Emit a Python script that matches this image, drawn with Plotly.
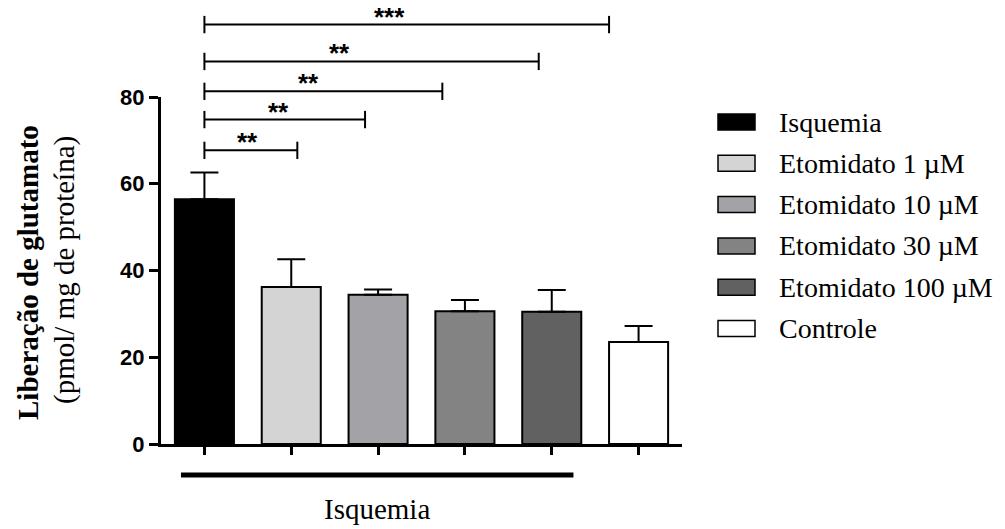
import plotly.graph_objects as go

# ---------------- data ----------------
categories = ["Isquemia", "Etomidato 1 µM", "Etomidato 10 µM",
              "Etomidato 30 µM", "Etomidato 100 µM", "Controle"]
means = [56.4, 36.2, 34.4, 30.6, 30.5, 23.5]
sem = [6.2, 6.4, 1.2, 2.6, 5.0, 3.7]
bar_colors = ["#000000", "#d4d4d4", "#a3a2a6", "#838383", "#616161", "#ffffff"]
y_ticks = [0, 20, 40, 60, 80]

# significance brackets (from category index -> to category position, height in data units)
sig_from = [0, 0, 0, 0, 0]
sig_to = [1.07, 1.85, 2.74, 3.85, 4.66]
sig_y = [67.7, 74.8, 81.3, 88.2, 96.7]
sig_text = ["**", "**", "**", "**", "***"]
sig_text_x = [0.5, 0.85, 1.2, 1.56, 2.13]

group_label = "Isquemia"
group_span = [-0.27, 4.25]

y_title_bold = "Liberação de glutamato"
y_title_sub = "(pmol/ mg de proteína)"

# ---------------- layout constants ----------------
XMIN, XMAX = -0.5, 5.5
YMIN, YMAX = 0, 80
W, H = 1005, 529
ML, MR, MT, MB = 161, 323, 97, 85
PW = W - ML - MR
PH = H - MT - MB
SERIF = "Liberation Serif, Times New Roman, serif"
SANS = "Liberation Sans, Arial, sans-serif"


def xp(c):
    return (c - XMIN) / (XMAX - XMIN)


def yp(v):
    return (v - YMIN) / (YMAX - YMIN)


def px_to_xpaper(px):
    return (px - ML) / PW


def px_to_ypaper(py):
    return (H - MB - py) / PH


x_idx = list(range(len(categories)))

fig = go.Figure()
fig.add_trace(go.Bar(
    x=x_idx, y=means, width=0.68,
    marker=dict(color=bar_colors, line=dict(color="black", width=2)),
    error_y=dict(type="data", array=sem, arrayminus=[0] * len(sem), symmetric=False,
                 thickness=2, width=14, color="black"),
    showlegend=False, hoverinfo="skip",
))

shapes = []
annotations = []

# significance brackets
tick_half = 2.0
for f, t, v, s, sx in zip(sig_from, sig_to, sig_y, sig_text, sig_text_x):
    line = dict(color="black", width=2)
    shapes.append(dict(type="line", xref="paper", yref="paper",
                       x0=xp(f), x1=xp(t), y0=yp(v), y1=yp(v), line=line))
    for xe in (f, t):
        shapes.append(dict(type="line", xref="paper", yref="paper",
                           x0=xp(xe), x1=xp(xe), y0=yp(v - tick_half), y1=yp(v + tick_half),
                           line=line))
    annotations.append(dict(xref="paper", yref="paper", x=xp(sx), y=yp(v),
                            text=s, showarrow=False, xanchor="center", yanchor="bottom",
                            yshift=-9,
                            font=dict(family=SANS, size=26, color="black", weight="bold")))

# group bar below axis
shapes.append(dict(type="line", xref="paper", yref="paper",
                   x0=xp(group_span[0]), x1=xp(group_span[1]),
                   y0=px_to_ypaper(475), y1=px_to_ypaper(475),
                   line=dict(color="black", width=5)))
annotations.append(dict(xref="paper", yref="paper",
                        x=xp((group_span[0] + group_span[1]) / 2), y=px_to_ypaper(509),
                        text=group_label, showarrow=False, xanchor="center", yanchor="middle",
                        font=dict(family=SERIF, size=29, color="black")))

# y-axis titles
annotations.append(dict(xref="paper", yref="paper", x=px_to_xpaper(28), y=px_to_ypaper(273),
                        text="<b>" + y_title_bold + "</b>", showarrow=False, textangle=-90,
                        xanchor="center", yanchor="middle",
                        font=dict(family=SERIF, size=29, color="black")))
annotations.append(dict(xref="paper", yref="paper", x=px_to_xpaper(64), y=px_to_ypaper(270),
                        text=y_title_sub, showarrow=False, textangle=-90,
                        xanchor="center", yanchor="middle",
                        font=dict(family=SERIF, size=29, color="black")))

# custom legend
row0, row_step = 122, 41.3
for i, (name, col) in enumerate(zip(categories, bar_colors)):
    cy = row0 + i * row_step
    shapes.append(dict(type="rect", xref="paper", yref="paper",
                       x0=px_to_xpaper(718), x1=px_to_xpaper(755),
                       y0=px_to_ypaper(cy - 8), y1=px_to_ypaper(cy + 8),
                       fillcolor=col, line=dict(color="black", width=1.5)))
    annotations.append(dict(xref="paper", yref="paper", x=px_to_xpaper(777), y=px_to_ypaper(cy),
                            text=name, showarrow=False, xanchor="left", yanchor="middle",
                            font=dict(family=SERIF, size=28, color="black")))

fig.update_layout(
    width=W, height=H,
    margin=dict(l=ML, r=MR, t=MT, b=MB, autoexpand=False),
    paper_bgcolor="white", plot_bgcolor="white",
    showlegend=False,
    shapes=shapes, annotations=annotations,
    xaxis=dict(range=[XMIN, XMAX], tickvals=x_idx, showticklabels=False,
               ticks="outside", ticklen=8, tickwidth=3, tickcolor="black",
               showline=True, linewidth=3, linecolor="black",
               showgrid=False, zeroline=False, fixedrange=True),
    yaxis=dict(range=[YMIN, YMAX], tickvals=y_ticks,
               ticks="outside", ticklen=9, tickwidth=3, tickcolor="black",
               showline=True, linewidth=3, linecolor="black",
               showgrid=False, zeroline=False, fixedrange=True,
               tickfont=dict(family=SANS, size=22, color="black", weight="bold")),
)

fig.write_html("out.html", config={"displayModeBar": False},
               post_script="document.body.style.margin='0';document.body.style.overflow='hidden';")
